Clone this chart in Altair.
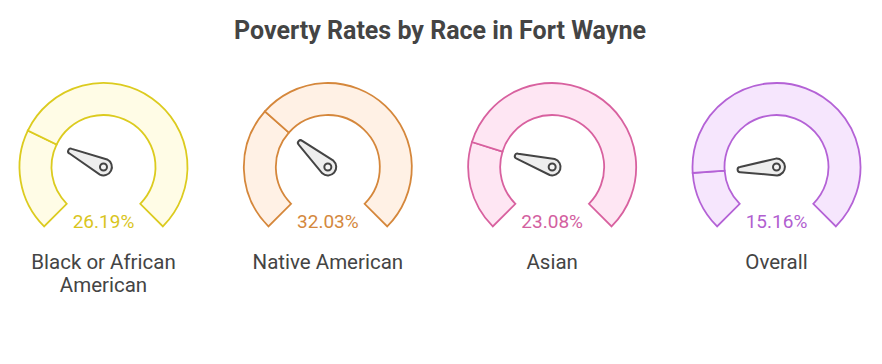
import altair as alt
import pandas as pd

# ---- data ----
races = ["Black or African American", "Native American", "Asian", "Overall"]
display_labels = ["Black or African\nAmerican", "Native American", "Asian", "Overall"]
rates = [26.19, 32.03, 23.08, 15.16]
stroke_colors = ["#dccb1f", "#d5873b", "#d8619f", "#b462d6"]
fill_colors = ["#fffce6", "#fff1e5", "#fee6f3", "#f6e6fd"]
text_colors = ["#d9c51e", "#d4883d", "#d3609f", "#b15fd0"]

# segments of each gauge: filled part [0, rate] and remainder [rate, 100]
seg_rows = []
for r, v in zip(races, rates):
    seg_rows.append({"race": r, "start": 0.0, "end": v})
    seg_rows.append({"race": r, "start": v, "end": 100.0})
segs = pd.DataFrame(seg_rows)
vals = pd.DataFrame({"race": races, "rate": rates, "label": display_labels})

CY = 116          # gauge centre (pixels from plot top)
VAL_Y = 177       # value text baseline
LAB_Y = 218       # category label baseline

xenc = alt.X("race:N", sort=races, axis=None,
             scale=alt.Scale(type="point", padding=0.4257))
stroke_enc = alt.Stroke("race:N", scale=alt.Scale(domain=races, range=stroke_colors), legend=None)
fill_enc = alt.Fill("race:N", scale=alt.Scale(domain=races, range=fill_colors), legend=None)

arcs = alt.Chart(segs).mark_arc(radius=84, radius2=52, strokeWidth=1.8).encode(
    x=xenc,
    y=alt.value(CY),
    theta=alt.Theta("start:Q", scale=alt.Scale(domain=[0, 100], range=[3.92699, 8.63938])),
    theta2="end:Q",
    fill=fill_enc,
    stroke=stroke_enc,
)

NEEDLE = ("M0.21,0 L0.065,-0.91 A0.065,0.065 0 0 0 -0.065,-0.91 "
          "L-0.21,0 A0.21,0.21 0 0 0 0.21,0 Z")

needle = alt.Chart(vals).mark_point(
    shape=NEEDLE, size=6400, filled=True, fill="#eeeeee", stroke="#444444",
    strokeWidth=2, opacity=1,
).encode(
    x=xenc,
    y=alt.value(CY),
    angle=alt.Angle("rate:Q", scale=alt.Scale(domain=[0, 100], range=[225, 495])),
)

hole = alt.Chart(vals).mark_point(
    shape="circle", size=49, filled=True, fill="#f4f4f4", stroke="#444444",
    strokeWidth=2, opacity=1,
).encode(x=xenc, y=alt.value(CY))

value_text = alt.Chart(vals).transform_calculate(
    txt="format(datum.rate, '.2f') + '%'"
).mark_text(fontSize=19, font="Roboto", baseline="alphabetic", align="center").encode(
    x=xenc,
    y=alt.value(VAL_Y),
    text="txt:N",
    color=alt.Color("race:N", scale=alt.Scale(domain=races, range=text_colors), legend=None),
)

label_text = alt.Chart(vals).mark_text(
    fontSize=20.5, font="Roboto", baseline="alphabetic", align="center",
    color="#444444", lineBreak="\n", lineHeight=23,
).encode(x=xenc, y=alt.value(LAB_Y), text="label:N")

chart = alt.layer(arcs, needle, hole, value_text, label_text).resolve_scale(
    color="independent"
).properties(
    width=864,
    height=262,
    padding={"top": 10, "left": 0, "right": 0, "bottom": 0},
    title=alt.TitleParams(
        "Poverty Rates by Race in Fort Wayne",
        fontSize=25, fontWeight="bold", font="Roboto", color="#444444",
        anchor="middle", offset=7.5,
    ),
).configure_view(stroke=None)

chart.save("out.html", embed_options={"renderer": "svg", "actions": False})
